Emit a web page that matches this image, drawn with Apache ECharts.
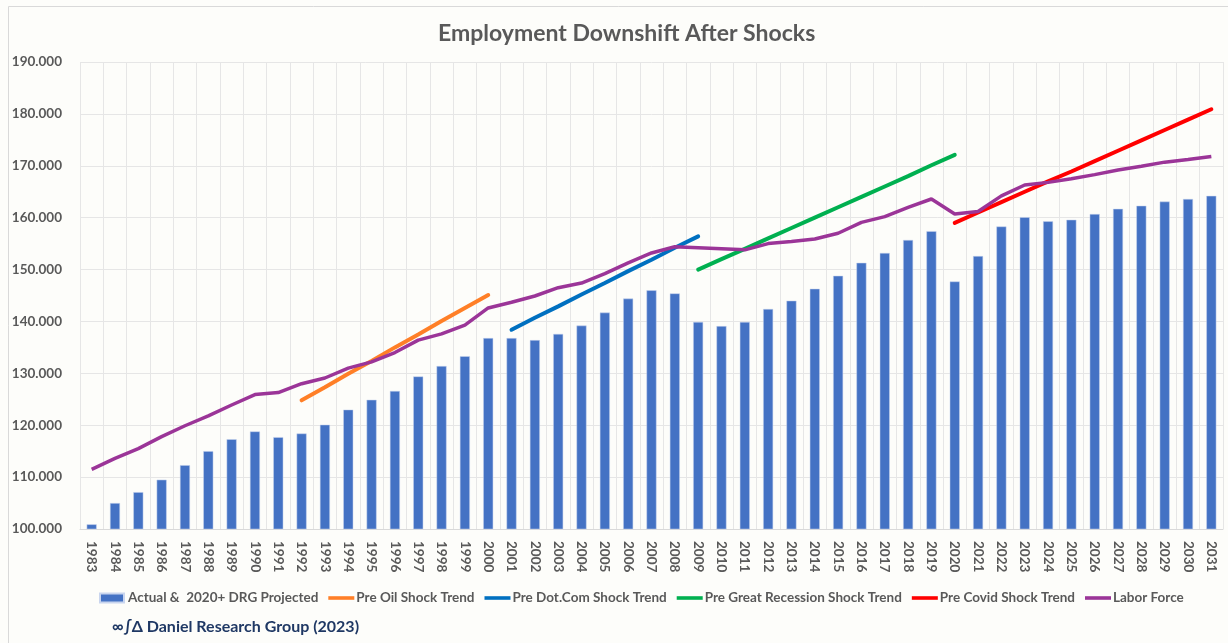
<!DOCTYPE html>
<html>
<head>
<meta charset="utf-8">
<script src="https://cdn.jsdelivr.net/npm/echarts@6/dist/echarts.min.js"></script>
<style>
  html, body { margin: 0; padding: 0; background: #fdfdfa; }
  #main { width: 1228px; height: 643px; }
</style>
</head>
<body>
<div id="main"></div>
<script>
// years on the category axis
const years = [];
for (let y = 1983; y <= 2031; y++) years.push(String(y));

// employment, actual & DRG projected (millions)
const employment = [
  100.9, 105.0, 107.1, 109.5, 112.3, 115.0, 117.3, 118.8, 117.7, 118.4,
  120.1, 123.0, 124.9, 126.6, 129.4, 131.4, 133.3, 136.8, 136.8, 136.4,
  137.6, 139.2, 141.7, 144.4, 146.0, 145.4, 139.9, 139.1, 139.9, 142.4,
  144.0, 146.3, 148.8, 151.3, 153.2, 155.7, 157.4, 147.7, 152.6, 158.3,
  160.1, 159.3, 159.6, 160.7, 161.7, 162.3, 163.1, 163.6, 164.2
];

// labor force
const laborForce = [
  111.5, 113.6, 115.5, 117.8, 119.9, 121.8, 123.9, 125.9, 126.3, 128.0,
  129.1, 131.0, 132.2, 134.0, 136.4, 137.6, 139.3, 142.6, 143.7, 144.9,
  146.5, 147.4, 149.2, 151.3, 153.2, 154.4, 154.2, 154.0, 153.8, 155.0,
  155.4, 155.9, 157.0, 159.1, 160.2, 162.0, 163.6, 160.7, 161.2, 164.2,
  166.3, 166.8, 167.5, 168.3, 169.2, 169.9, 170.7, 171.2, 171.8
];

// trend lines: start year + values
const oilTrendStart = '1992';
const oilTrend = [124.8, 127.3, 129.9, 132.4, 135.0, 137.5, 140.1, 142.6, 145.1];
const dotcomTrendStart = '2001';
const dotcomTrend = [138.4, 140.7, 142.9, 145.2, 147.4, 149.7, 151.9, 154.2, 156.4];
const recessionTrendStart = '2009';
const recessionTrend = [150.0, 152.0, 154.0, 156.0, 158.0, 160.0, 162.0, 164.0, 166.0, 168.0, 170.1, 172.1];
const covidTrendStart = '2020';
const covidTrend = [159.0, 161.0, 163.0, 165.0, 167.0, 168.9, 170.9, 172.9, 174.9, 176.9, 178.9, 180.9];

const yTicks = [100, 110, 120, 130, 140, 150, 160, 170, 180, 190];

function place(start, vals) {
  const out = years.map(() => null);
  const i0 = years.indexOf(start);
  vals.forEach((v, i) => { out[i0 + i] = v; });
  return out;
}

const grey = '#595959';
const font = 'Lato, "Open Sans", sans-serif';
// thin line icon for the legend (bounding box kept 26x10 by the move-to points)
const lineIcon = 'path://M0,0L0,0M0,3.2L26,3.2L26,6.8L0,6.8ZM26,10L26,10';
const barIcon = 'path://M0,0.5L24,0.5L24,9.5L0,9.5ZM26,0L26,0M26,10L26,10';

const chart = echarts.init(document.getElementById('main'));

function trend(name, color, data) {
  return {
    name: name,
    type: 'line',
    data: data,
    symbol: 'none',
    lineStyle: { color: color, width: 4, cap: 'round' },
    itemStyle: { color: color },
    z: 3
  };
}

chart.setOption({
  backgroundColor: '#fdfdfa',
  animation: false,
  textStyle: { fontFamily: font },
  title: {
    text: 'Employment Downshift After Shocks',
    left: 433,
    top: 17,
    textStyle: { fontFamily: font, fontSize: 23, fontWeight: 'bold', color: '#595959' }
  },
  graphic: [
    {
      type: 'rect',
      shape: { x: 8.5, y: 6.5, width: 1240, height: 660 },
      style: { fill: 'none', stroke: '#d9d9d9', lineWidth: 1 },
      silent: true
    },
    {
      type: 'text',
      left: 112,
      top: 619,
      style: {
        text: '∞∫Δ Daniel Research Group (2023)',
        font: 'bold 16px ' + font,
        fill: '#1f3864'
      }
    }
  ],
  legend: {
    top: 586,
    left: 94,
    itemGap: 10,
    itemWidth: 26,
    itemHeight: 10,
    textStyle: { fontFamily: font, fontSize: 13.5, fontWeight: 'bold', color: grey, padding: [0, 0, 0, -3] },
    data: [
      { name: 'Actual &  2020+ DRG Projected', icon: barIcon },
      { name: 'Pre Oil Shock Trend', icon: lineIcon },
      { name: 'Pre Dot.Com Shock Trend', icon: lineIcon },
      { name: 'Pre Great Recession Shock Trend', icon: lineIcon },
      { name: 'Pre Covid Shock Trend', icon: lineIcon },
      { name: 'Labor Force', icon: lineIcon }
    ]
  },
  grid: { left: 80, right: 5, top: 62, bottom: 114 },
  xAxis: {
    type: 'category',
    data: years,
    boundaryGap: true,
    axisLine: { lineStyle: { color: '#d9d9d9' } },
    axisTick: { show: false },
    splitLine: { show: true, lineStyle: { color: '#e6e6e6' } },
    axisLabel: {
      rotate: -90,
      interval: 0,
      margin: 12,
      fontSize: 13.5,
      fontWeight: 'bold',
      color: grey,
      fontFamily: font
    }
  },
  yAxis: {
    type: 'value',
    min: 100,
    max: 190,
    interval: 10,
    axisLine: { show: false },
    axisTick: { show: false },
    splitLine: { lineStyle: { color: '#e6e6e6' } },
    axisLabel: {
      margin: 18,
      fontSize: 13.5,
      fontWeight: 'bold',
      color: grey,
      fontFamily: font,
      customValues: yTicks,
      formatter: v => v.toFixed(3)
    }
  },
  series: [
    {
      name: 'Actual &  2020+ DRG Projected',
      type: 'bar',
      data: employment,
      barWidth: 10,
      itemStyle: { color: '#4472c4', borderColor: '#c9d5ee', borderWidth: 0.5 },
      z: 2
    },
    trend('Pre Oil Shock Trend', '#ff7f27', place(oilTrendStart, oilTrend)),
    trend('Pre Dot.Com Shock Trend', '#0070c0', place(dotcomTrendStart, dotcomTrend)),
    trend('Pre Great Recession Shock Trend', '#00b050', place(recessionTrendStart, recessionTrend)),
    trend('Pre Covid Shock Trend', '#ff0000', place(covidTrendStart, covidTrend)),
    {
      name: 'Labor Force',
      type: 'line',
      data: laborForce,
      symbol: 'none',
      lineStyle: { color: '#9b3598', width: 3.5 },
      itemStyle: { color: '#9b3598' },
      z: 4
    }
  ]
});
</script>
</body>
</html>
